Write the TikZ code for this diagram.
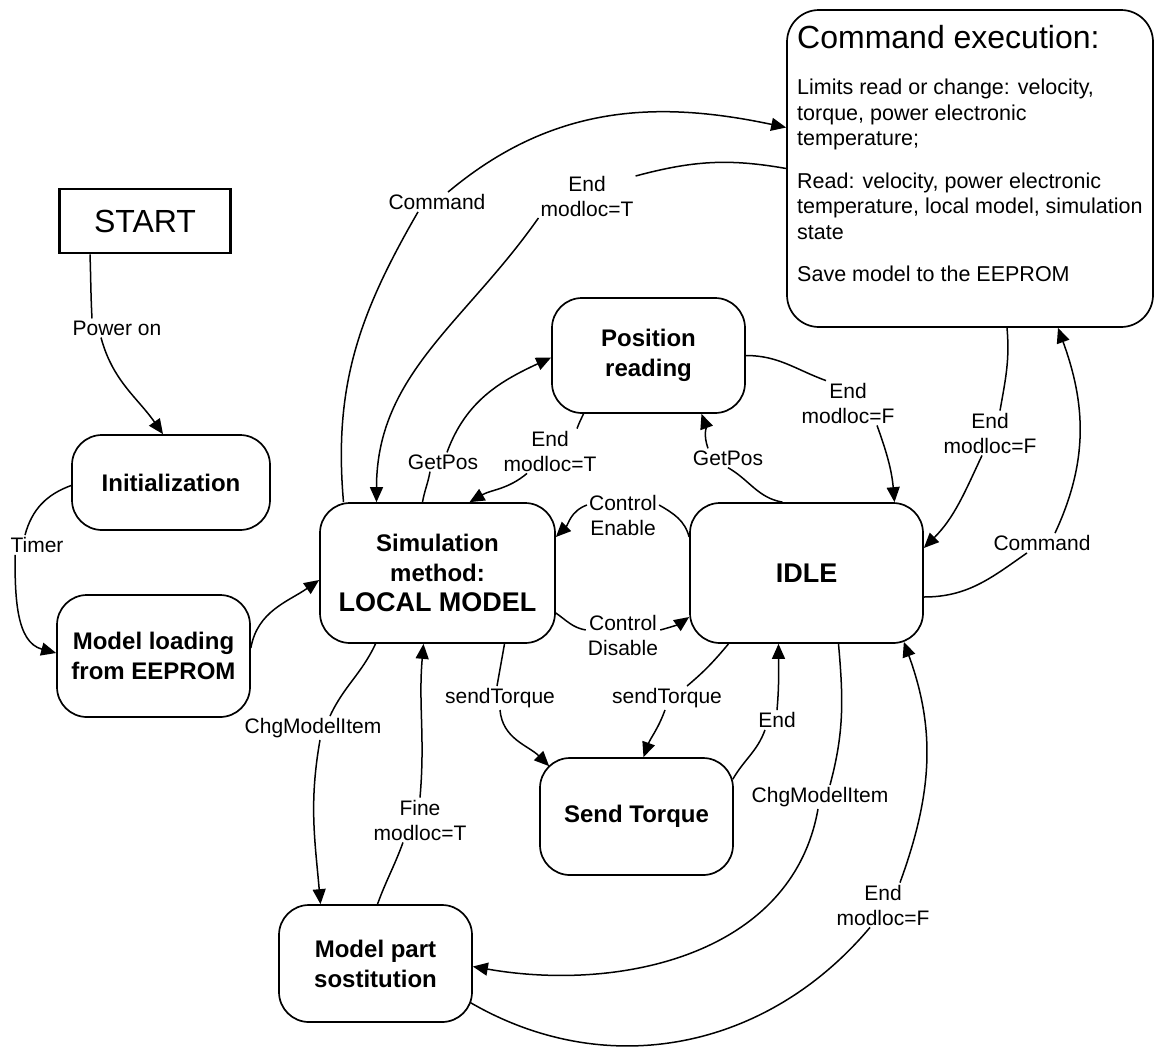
\documentclass[tikz,border=0pt]{standalone}
\usepackage{fontspec}
\setmainfont{Liberation Sans}
\usetikzlibrary{positioning,arrows.meta}

\begin{document}
\begin{tikzpicture}[x=1pt,y=-1pt,
  state/.style={draw,rounded corners=30pt,line width=1.7pt,align=center,inner sep=0pt,font=\fontsize{24}{30}\selectfont\bfseries},
  lbl/.style={align=center,inner sep=2pt,font=\fontsize{21}{25}\selectfont},
  trans/.style={line width=1.5pt,-{Triangle[length=15pt,width=13pt]}}]
\useasboundingbox (0,0) rectangle (1156,1050);

% Nodes
\node[draw,line width=2.8pt,minimum width=171pt,minimum height=64pt,font=\fontsize{32}{38}\selectfont] (start) at (145,221) {START};
\node[state,minimum width=198pt,minimum height=95pt] (init) at (171,482.5) {Initialization};
\node[state,minimum width=193pt,minimum height=122pt] (load) at (153.5,656) {Model loading\\from EEPROM};
\node[state,minimum width=235pt,minimum height=140pt] (sim) at (437.5,573) {Simulation\\method:\\{\fontsize{27}{30}\selectfont LOCAL MODEL}};
\node[state,minimum width=233pt,minimum height=140pt,font=\fontsize{27}{30}\selectfont\bfseries] (idle) at (806.5,573) {IDLE};
\node[state,minimum width=193pt,minimum height=115pt] (pos) at (648.5,355.5) {Position\\reading};
\node[state,minimum width=193pt,minimum height=117pt] (send) at (636.5,816.5) {Send Torque};
\node[state,minimum width=193pt,minimum height=117pt] (part) at (375.5,963.5) {Model part\\sostitution};
\node[draw,rounded corners=32pt,line width=1.7pt,minimum width=366pt,minimum height=317pt] (cmd) at (970,168.5) {};
\node[anchor=north west,align=left,inner sep=0pt,font=\fontsize{21.5}{25.5}\selectfont] (cmdtxt) at (797,25)
  {{\fontsize{32}{36}\selectfont Command execution:}\\[21pt]
   Limits read or change: velocity,\\torque, power electronic\\temperature;\\[17pt]
   Read: velocity, power electronic\\temperature, local model, simulation\\state\\[17pt]
   Save model to the EEPROM};

% Labels
\node[lbl] (lpow) at (117,328) {Power on};
\node[lbl] (ltim) at (37,545) {Timer};
\node[lbl] (lcmd1) at (437,202) {Command};
\node[lbl] (lendT1) at (587,196) {End\\modloc=T};
\node[lbl] (lgp1) at (443,462) {GetPos};
\node[lbl] (lendT2) at (550,451) {End\\modloc=T};
\node[lbl] (lce) at (623,515) {Control\\Enable};
\node[lbl] (lcd) at (623,635) {Control\\Disable};
\node[lbl] (lgp2) at (728,458) {GetPos};
\node[lbl] (lendF1) at (848,403) {End\\modloc=F};
\node[lbl] (lendF2) at (990,433) {End\\modloc=F};
\node[lbl] (lcmd2) at (1042,543) {Command};
\node[lbl] (lst1) at (500,698) {sendTorque};
\node[lbl] (lst2) at (667,698) {sendTorque};
\node[lbl] (lend) at (777,720) {End};
\node[lbl] (lchg1) at (313,728) {ChgModelItem};
\node[lbl] (lfine) at (420,820) {Fine\\modloc=T};
\node[lbl] (lchg2) at (820,797) {ChgModelItem};
\node[lbl] (lendF3) at (883,905) {End\\modloc=F};

% Lines
\draw[trans] ([xshift=-55pt]start.south) to[out=-88,in=93] ([xshift=-25pt]lpow.north)
  ([xshift=-16pt]lpow.south) to[out=-75,in=125] ([xshift=-8pt]init.north);
\draw[trans] ([yshift=-3pt]init.west) to[out=200,in=75] ([xshift=-12pt]ltim.north)
  ([xshift=-22pt]ltim.south) to[out=-90,in=165] ([yshift=3pt]load.west);
\draw[trans] ([yshift=8pt]load.east) to[out=80,in=215] ([yshift=-7pt]sim.west);
\draw[trans] ([xshift=-94pt]sim.north) to[out=95,in=-120] ([xshift=-19pt]lcmd1.south)
  ([xshift=11pt]lcmd1.north) to[out=40,in=168] ([yshift=41pt]cmd.west);
\draw[trans] (cmd.west) to[out=170,in=15] ([yshift=20pt]lendT1.east)
  ([yshift=-22pt]lendT1.west) to[out=235,in=90] ([xshift=-61pt]sim.north);
\draw[trans] ([xshift=-15pt]sim.north) to[out=80,in=-100] ([xshift=-13pt]lgp1.south)
  ([xshift=4pt]lgp1.north) to[out=70,in=205] ([yshift=-2pt]pos.west);
\draw[trans] ([xshift=-65pt]pos.south) to[out=-115,in=70] ([xshift=27pt]lendT2.north)
  ([xshift=-23pt]lendT2.south) to[out=-140,in=30] ([xshift=32pt]sim.north);
\draw[trans] ([yshift=36pt]idle.west) to[out=105,in=-30] ([yshift=10pt]lce.east)
  ([yshift=10pt]lce.west) to[out=200,in=45] ([yshift=36pt]sim.east);
\draw[trans] ([yshift=-40pt]sim.east) to[out=-35,in=170] ([yshift=5pt]lcd.west)
  ([yshift=5pt]lcd.east) to[out=15,in=-145] ([yshift=-44pt]idle.west);
\draw[trans] ([xshift=-24pt]idle.north) to[out=170,in=-30] (lgp2.south)
  ([xshift=-20pt]lgp2.north) to[out=110,in=-70] ([xshift=53pt]pos.south);
\draw[trans] (pos.east) to[out=0,in=160] ([xshift=-22pt]lendF1.north)
  ([xshift=29pt]lendF1.south) to[out=-70,in=95] ([xshift=88pt]idle.north);
\draw[trans] ([xshift=37pt]cmd.south) to[out=-85,in=80] ([xshift=10pt]lendF2.north)
  ([xshift=-8pt]lendF2.south) to[out=-115,in=45] ([yshift=25pt]idle.east);
\draw[trans] ([yshift=-24pt]idle.east) to[out=0,in=-145] ([xshift=-15pt]lcmd2.south)
  ([xshift=13pt]lcmd2.north) to[out=65,in=-70] ([xshift=88pt]cmd.south);
\draw[trans] ([xshift=67pt]sim.south) to[out=-100,in=80] ([xshift=-3pt]lst1.north)
  (lst1.south) to[out=-85,in=135] ([xshift=10pt,yshift=-9pt]send.north west);
\draw[trans] ([xshift=-78pt]idle.south) to[out=-130,in=40] ([xshift=20pt]lst2.north)
  ([xshift=-2pt]lst2.south) to[out=-110,in=70] ([xshift=7pt]send.north);
\draw[trans] ([xshift=-1pt,yshift=-22pt]send.north east) to[out=60,in=-110] ([xshift=-12pt]lend.south)
  (lend.north) to[out=85,in=-90] ([xshift=-28pt]idle.south);
\draw[trans] ([xshift=32pt]idle.south) to[out=-85,in=75] ([xshift=10pt]lchg2.north)
  ([xshift=-2pt]lchg2.south) to[out=-100,in=-10] ([yshift=-3pt]part.east);
\draw[trans] ([xshift=-2pt,yshift=20pt]part.south east) to[out=-30,in=-130] ([xshift=-13pt]lendF3.south)
  ([xshift=17pt]lendF3.north) to[out=70,in=-70] ([xshift=-20pt,yshift=2pt]idle.south east);
\draw[trans] ([xshift=-62pt]sim.south) to[out=-115,in=65] ([xshift=17pt]lchg1.north)
  ([xshift=7pt]lchg1.south) to[out=-100,in=95] ([xshift=-55pt]part.north);
\draw[trans] ([xshift=2pt]part.north) to[out=70,in=-110] ([xshift=-17pt]lfine.south)
  (lfine.north) to[out=85,in=-95] ([xshift=-14pt]sim.south);

\end{tikzpicture}
\end{document}
